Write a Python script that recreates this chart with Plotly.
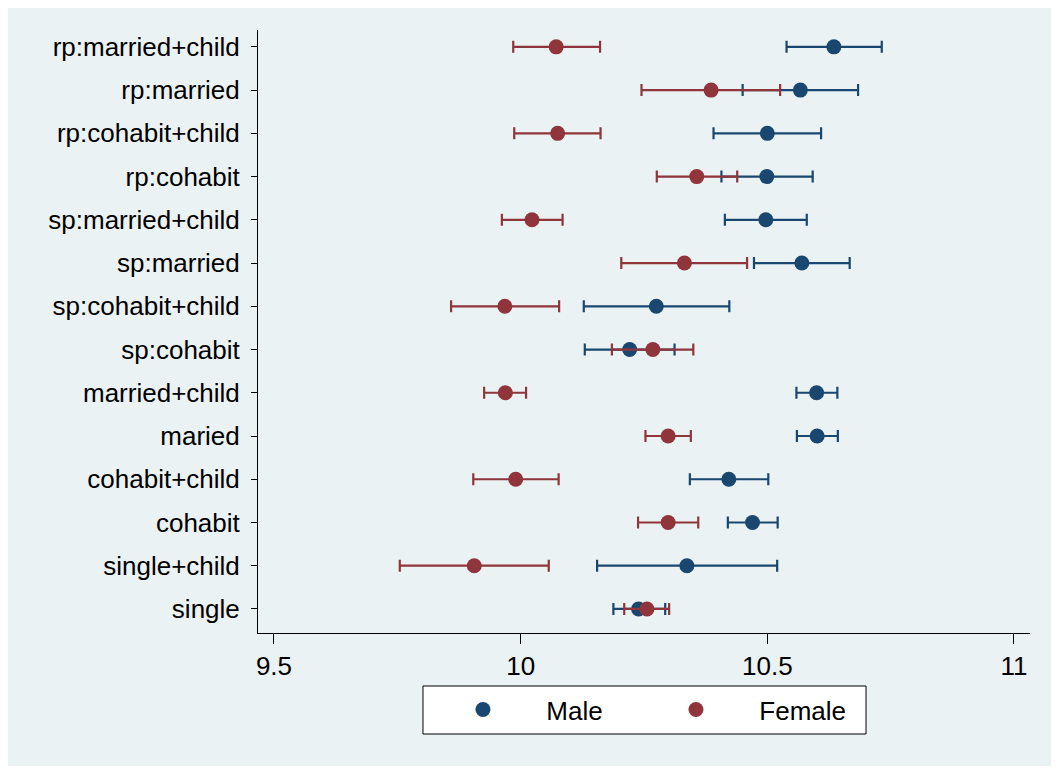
import plotly.graph_objects as go

categories = ["single", "single+child", "cohabit", "cohabit+child", "maried", "married+child",
              "sp:cohabit", "sp:cohabit+child", "sp:married", "sp:married+child",
              "rp:cohabit", "rp:cohabit+child", "rp:married", "rp:married+child"]

male_mean = [10.239, 10.337, 10.470, 10.422, 10.601, 10.600,
             10.221, 10.275, 10.570, 10.497,
             10.499, 10.500, 10.567, 10.635]
male_lo = [10.188, 10.155, 10.420, 10.343, 10.560, 10.559,
           10.130, 10.128, 10.473, 10.414,
           10.407, 10.391, 10.450, 10.539]
male_hi = [10.293, 10.520, 10.521, 10.502, 10.643, 10.642,
           10.312, 10.423, 10.667, 10.580,
           10.592, 10.609, 10.684, 10.732]

female_mean = [10.256, 9.906, 10.299, 9.990, 10.299, 9.969,
               10.268, 9.968, 10.332, 10.023,
               10.357, 10.075, 10.386, 10.072]
female_lo = [10.210, 9.755, 10.238, 9.904, 10.253, 9.926,
             10.185, 9.859, 10.204, 9.962,
             10.276, 9.987, 10.245, 9.985]
female_hi = [10.301, 10.057, 10.360, 10.077, 10.345, 10.011,
             10.350, 10.078, 10.459, 10.085,
             10.439, 10.162, 10.526, 10.161]

x_ticks = [9.5, 10, 10.5, 11]
x_ticktext = ["9.5", "10", "10.5", "11"]

NAVY = "#1A476F"
MAROON = "#90353B"
BG = "#EAF2F3"
FONT = "Liberation Sans, Arial, sans-serif"
PAD = "\u00a0" * 6


def series(name, mean, lo, hi, color):
    return go.Scatter(
        x=mean, y=categories, name=name, mode="markers",
        marker=dict(color=color, size=15, line=dict(width=0)),
        error_x=dict(type="data", symmetric=False,
                     array=[h - m for h, m in zip(hi, mean)],
                     arrayminus=[m - l for m, l in zip(mean, lo)],
                     color=color, thickness=2.2, width=6),
    )


fig = go.Figure()
fig.add_trace(series(PAD + "Male", male_mean, male_lo, male_hi, NAVY))
fig.add_trace(series(PAD + "Female", female_mean, female_lo, female_hi, MAROON))

# outer graph region background
fig.add_shape(type="rect", xref="paper", yref="paper", x0=-0.330, x1=1.0337, y0=-0.2206, y1=1.0448,
              fillcolor=BG, line=dict(width=0), layer="below")
# legend frame
fig.add_shape(type="rect", xref="paper", yref="paper", x0=0.2137, x1=0.7876, y0=-0.1675, y1=-0.0879,
              fillcolor="white", line=dict(color="black", width=1), layer="below")

fig.update_layout(
    width=1051, height=761,
    margin=dict(l=250, r=29, t=22, b=136),
    paper_bgcolor="white", plot_bgcolor="white",
    font=dict(family=FONT, size=26, color="black"),
    showlegend=True,
    legend=dict(orientation="h", x=0.2655, xanchor="left", y=-0.088, yanchor="top",
                bgcolor="rgba(0,0,0,0)", borderwidth=0,
                font=dict(size=26), entrywidth=168, entrywidthmode="pixels"),
    xaxis=dict(range=[9.4676, 11.0325], tickvals=x_ticks, ticktext=x_ticktext,
               showgrid=False, zeroline=False, showline=True, linecolor="black", linewidth=1,
               ticks="outside", ticklen=10, tickcolor="black", tickwidth=1,
               tickfont=dict(size=26)),
    yaxis=dict(type="category", categoryorder="array", categoryarray=categories,
               range=[-0.556, 13.39],
               showgrid=True, gridcolor=BG, gridwidth=2,
               showline=True, linecolor="black", linewidth=1,
               ticks="outside", ticklen=6, tickcolor="black", tickwidth=1,
               ticklabelstandoff=6, tickfont=dict(size=26)),
)

fig.write_html("out.html")
